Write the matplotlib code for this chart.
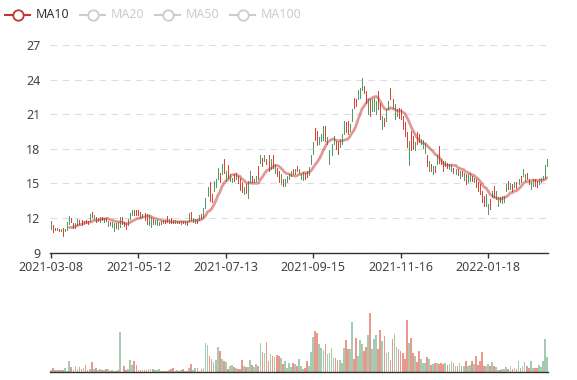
import matplotlib
matplotlib.use("Agg")
import matplotlib.pyplot as plt
import numpy as np
import pandas as pd
from matplotlib.lines import Line2D

plt.rcParams['font.family'] = ['Noto Sans', 'DejaVu Sans']

# ---------------- data ----------------
opens = [
    11.09, 11.43, 11.14, 10.94, 11.09, 10.86, 11.17, 10.89, 10.94, 11.51,
    12.00, 11.57, 11.17, 11.43, 11.86, 11.80, 11.51, 11.80, 11.74, 11.71,
    12.51, 11.94, 12.06, 11.71, 11.66, 12.09, 11.66, 12.00, 11.29, 11.66,
    11.23, 10.86, 11.57, 11.03, 11.23, 12.09, 11.66, 11.57, 11.37, 11.94,
    12.23, 12.71, 12.71, 12.66, 12.51, 12.09, 12.43, 12.37, 11.37, 11.23,
    11.94, 11.51, 11.43, 11.43, 11.71, 11.57, 11.80, 12.17, 11.57, 12.00,
    # segment B
    11.86, 11.60, 11.57, 11.77, 11.49, 11.77, 11.49, 11.71, 11.71, 12.51,
    11.66, 11.60, 11.94, 11.80, 12.37, 12.09, 12.86, 13.94, 15.14, 14.09,
    14.37, 14.66, 15.37, 15.94, 15.80, 17.09, 15.23, 16.57, 15.23, 15.09,
    15.80, 15.37, 15.66, 15.51, 15.09, 14.09, 14.94, 13.71, 15.09, 15.66,
    15.09, 15.23, 16.51, 16.80, 17.23, 16.94, 17.14, 17.51, 16.23, 17.51,
    15.94, 16.37, 16.09, 14.94, 15.37, 14.74, 15.09, 15.37, 15.66, 16.29,
    15.86, 16.51, 15.94,
    # segment C
    15.43, 15.29, 15.94, 16.06, 15.77, 16.71, 17.57, 19.77, 19.57, 18.43,
    18.71, 18.80, 19.94, 18.43, 16.71, 17.43, 18.43, 18.71, 18.57, 18.14,
    18.43, 19.29, 20.29, 20.43, 19.57, 20.43, 22.43, 22.29, 22.29, 22.43,
    23.14, 23.43, 23.00, 21.00, 22.29, 21.29, 21.29, 21.00, 23.00, 22.00,
    19.71, 20.71, 20.43, 21.43, 23.29, 22.29, 20.57, 20.86, 21.57, 21.43,
    20.86, 20.29, 19.43, 16.57, 19.57, 19.14, 17.86, 19.43, 19.29, 18.43,
    # segment D
    18.09, 17.66, 17.43, 16.09, 16.66, 15.80, 16.51, 16.66, 18.23, 17.09,
    16.94, 16.51, 16.80, 16.23, 16.09, 16.37, 15.80, 16.23, 15.51, 16.09,
    15.31, 15.80, 15.09, 15.23, 15.66, 15.09, 15.37, 15.09, 14.94, 14.37,
    13.94, 13.09, 12.37, 13.66, 13.80, 14.80, 13.66, 13.03, 13.80, 13.31,
    13.37, 14.37, 15.23, 14.51, 14.94, 14.66, 15.09, 14.94, 15.66, 15.66,
    15.23, 15.94, 15.37, 14.51, 14.80, 15.37, 15.23, 14.94, 15.09, 15.37,
    15.51, 16.51,
]

closes = [
    11.71, 10.80, 10.94, 11.17, 10.91, 11.09, 10.43, 11.03, 11.66, 12.17,
    11.66, 11.14, 11.57, 11.89, 11.51, 11.43, 11.77, 11.57, 11.51, 12.37,
    12.09, 12.23, 11.66, 12.00, 12.09, 11.80, 12.00, 11.71, 11.71, 11.37,
    11.66, 11.57, 11.14, 11.66, 12.09, 11.51, 11.29, 11.09, 11.94, 12.43,
    12.71, 12.29, 12.29, 12.23, 12.09, 12.37, 11.80, 11.51, 12.23, 12.09,
    11.51, 11.80, 11.80, 11.66, 11.51, 11.80, 11.57, 11.66, 11.94, 11.57,
    # segment B
    11.57, 11.80, 11.77, 11.54, 11.77, 11.54, 11.71, 11.43, 12.43, 11.80,
    12.00, 11.94, 11.60, 12.23, 12.00, 12.86, 13.77, 14.66, 13.51, 13.37,
    15.23, 15.37, 16.37, 15.09, 16.66, 15.94, 16.09, 15.51, 15.80, 15.51,
    15.23, 15.94, 15.00, 14.46, 14.29, 14.66, 14.17, 15.23, 16.09, 15.09,
    15.37, 15.66, 15.37, 17.51, 16.51, 17.51, 16.66, 16.09, 17.09, 16.37,
    16.66, 15.66, 15.09, 15.80, 14.80, 15.37, 15.66, 15.80, 16.09, 15.80,
    16.23, 16.09, 16.23,
    # segment C
    15.86, 16.00, 15.43, 15.57, 16.43, 17.43, 18.57, 18.80, 18.34, 19.00,
    19.29, 20.00, 18.71, 19.00, 17.86, 18.43, 19.14, 18.00, 17.57, 18.86,
    19.29, 20.43, 19.43, 19.29, 20.14, 21.43, 21.57, 21.71, 23.14, 23.29,
    24.14, 22.86, 22.00, 22.29, 20.86, 22.29, 22.43, 22.14, 21.43, 20.57,
    20.86, 20.00, 21.43, 22.14, 22.29, 21.57, 21.86, 21.43, 20.71, 20.57,
    19.71, 19.14, 18.14, 18.71, 17.86, 18.00, 18.57, 18.43, 18.57, 18.86,
    # segment D
    18.80, 18.51, 16.51, 16.94, 16.09, 16.51, 16.00, 17.51, 16.80, 16.66,
    16.09, 16.94, 16.37, 16.66, 16.57, 15.94, 16.23, 15.71, 16.09, 15.66,
    15.94, 14.94, 15.80, 15.94, 15.23, 15.51, 14.66, 14.37, 14.09, 13.37,
    13.09, 14.09, 13.23, 12.80, 14.37, 13.80, 14.37, 13.80, 13.37, 13.94,
    13.94, 14.94, 14.51, 15.03, 14.37, 15.14, 14.57, 15.37, 15.09, 16.23,
    15.80, 15.37, 14.94, 15.09, 15.37, 14.80, 14.66, 15.37, 15.51, 15.66,
    16.57, 17.09,
]

volumes = [
    2.3, 4.0, 2.3, 2.3, 2.3, 2.3, 2.3, 4.0, 1.3, 11.3,
    5.0, 2.3, 6.3, 3.0, 5.0, 3.0, 4.0, 7.3, 2.3, 3.3,
    10.3, 3.0, 4.0, 2.3, 3.0, 2.3, 2.3, 3.0, 3.0, 1.3,
    2.3, 1.3, 1.3, 2.3, 40.0, 0.7, 6.3, 2.3, 3.3, 12.3,
    7.3, 11.3, 7.3, 2.3, 2.3, 2.3, 2.3, 2.3, 3.3, 3.3,
    3.0, 2.3, 2.3, 3.3, 1.7, 1.7, 1.7, 1.3, 2.3, 3.3,
    4.0, 1.3, 2.3, 1.3, 2.3, 3.0, 1.3, 1.3, 4.0, 8.3,
    2.3, 4.0, 4.0, 1.3, 3.0, 4.0, 29.7, 27.3, 16.3, 13.3,
    10.0, 12.3, 25.7, 21.7, 13.0, 11.7, 10.7, 3.3, 6.3, 7.3,
    5.7, 4.0, 3.3, 3.3, 12.3, 6.3, 5.0, 5.7, 12.3, 7.3,
    5.0, 8.3, 6.3, 29.7, 20.7, 19.0, 30.7, 11.7, 18.3, 16.7,
    15.7, 17.3, 16.3, 14.3, 8.3, 11.7, 4.0, 9.7, 5.0, 9.7,
    8.3, 6.3, 13.3,
    6.3, 3.3, 4.0, 11.7, 6.3, 20.0, 35.0, 41.3, 39.0, 28.0,
    24.0, 22.3, 28.0, 18.3, 19.0, 24.7, 14.0, 14.7, 12.3, 12.3,
    9.0, 24.7, 32.3, 23.3, 23.0, 50.7, 13.0, 34.7, 16.3, 32.3,
    28.3, 21.3, 25.0, 37.3, 59.0, 23.3, 33.0, 37.3, 23.0, 42.3,
    31.3, 36.7, 19.0, 20.3, 12.3, 33.3, 38.3, 25.0, 23.0, 21.7,
    19.0, 13.0, 52.3, 29.0, 34.0, 19.0, 16.7, 10.7, 21.3, 13.0,
    9.7, 9.7, 15.7, 13.0, 7.3, 8.3, 9.0, 9.0, 8.3, 9.0,
    8.3, 9.0, 7.3, 8.3, 11.3, 9.0, 6.3, 6.3, 9.0, 6.3,
    6.3, 11.3, 6.3, 7.3, 11.3, 8.3, 16.3, 7.3, 11.3, 20.7,
    6.3, 6.3, 8.3, 6.3, 10.0, 6.3, 5.7, 2.3, 2.3, 3.3,
    3.0, 5.0, 3.3, 6.3, 3.0, 4.0, 3.0, 11.3, 4.0, 6.3,
    10.7, 6.3, 4.0, 11.3, 4.7, 4.7, 4.7, 7.3, 5.0, 11.3,
    33.0, 15.7,
]

tick_labels = ['2021-03-08', '2021-05-12', '2021-07-13',
               '2021-09-15', '2021-11-16', '2022-01-18']
label_interval = 43
legend_names = ['MA10', 'MA20', 'MA50', 'MA100']
ma_window = 10
price_ticks = [9, 12, 15, 18, 21, 24, 27]

# ---------------- styling ----------------
W, H = 577, 380
UP = '#4f9d68'
DOWN = '#da4433'
UP_V = '#a3ccb2'
DOWN_V = '#ea988b'
MA_COLOR = '#c23531'
AXIS = '#333333'
TEXT = '#444444'

fig = plt.figure(figsize=(W / 100, H / 100), dpi=100)

def fy(py):
    return 1 - py / H

n = len(closes)
x = np.arange(n)
o = np.array(opens)
c = np.array(closes)
up = c >= o

# ---- price axes ----
ax = fig.add_axes([50 / W, fy(252.7), 498 / W, (252.7 - 45) / H])
ax.vlines(x, np.minimum(o, c), np.maximum(o, c),
          colors=np.where(up, UP, DOWN), linewidth=0.72,
          antialiased=False, zorder=3)
ma = pd.Series(c).rolling(ma_window).mean()
ax.plot(x, ma, color=MA_COLOR, alpha=0.5, lw=2.0, zorder=4,
        solid_capstyle='round', solid_joinstyle='round')

ax.set_xlim(-0.5, n - 0.5)
ax.set_ylim(price_ticks[0], price_ticks[-1])
ax.set_yticks(price_ticks)
ax.set_yticklabels([str(t) for t in price_ticks])
ax.grid(axis='y', linestyle=(0, (6, 5)), color='#dddddd', lw=0.8, zorder=0)
ax.set_axisbelow(True)
tick_pos = [k * label_interval for k in range(len(tick_labels))]
ax.set_xticks(tick_pos)
ax.set_xticklabels(tick_labels)
for s in ['top', 'right', 'left']:
    ax.spines[s].set_visible(False)
ax.spines['bottom'].set_color(AXIS)
ax.spines['bottom'].set_linewidth(1.0)
ax.tick_params(axis='y', length=0, pad=7, labelsize=9, labelcolor=TEXT)
ax.tick_params(axis='x', length=3.6, width=1.0, color=AXIS, pad=2.5,
               labelsize=9, labelcolor=TEXT)

# ---- volume axes ----
axv = fig.add_axes([50 / W, fy(372.3), 498 / W, 80 / H])
axv.bar(x, volumes, width=0.85, color=np.where(up, UP_V, DOWN_V), linewidth=0)
axv.set_xlim(-0.5, n - 0.5)
axv.set_ylim(0, 80)
axv.set_xticks([])
axv.set_yticks([])
for s in ['top', 'right', 'left']:
    axv.spines[s].set_visible(False)
axv.spines['bottom'].set_color(AXIS)
axv.spines['bottom'].set_linewidth(1.0)

# ---- legend ----
legend_x = [5, 80, 155, 230]
for k, name in enumerate(legend_names):
    col = MA_COLOR if k == 0 else '#cccccc'
    tcol = '#333333' if k == 0 else '#cccccc'
    x0 = legend_x[k]
    fig.add_artist(Line2D([x0 / W, (x0 + 25) / W], [fy(15), fy(15)],
                          transform=fig.transFigure, color=col, lw=1.5))
    fig.add_artist(Line2D([(x0 + 12.5) / W], [fy(15)],
                          transform=fig.transFigure, marker='o', markersize=7.5,
                          markerfacecolor='white', markeredgecolor=col,
                          markeredgewidth=1.3, linestyle='none'))
    fig.text((x0 + 31) / W, fy(15), name, ha='left', va='center',
             fontsize=9, color=tcol)

fig.savefig('out.png', dpi=100)
